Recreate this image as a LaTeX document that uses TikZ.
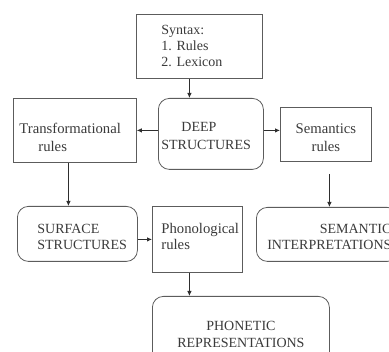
\documentclass[tikz,border=0pt]{standalone}
\usepackage{fontspec}
\setmainfont{Liberation Serif}
\usetikzlibrary{arrows.meta}
\hyphenpenalty=10000
\exhyphenpenalty=10000
\definecolor{linec}{HTML}{5C5C5C}
\definecolor{arrc}{HTML}{2E2E2E}
\definecolor{txt}{HTML}{3A3A3A}
% a strut that raises the top of a text block, to move its lines down
\newcommand\toppad[1]{\rule{0pt}{#1}}
% a strut that lowers the bottom of a text block, to move its lines up
\newcommand\botpad[1]{\rule[-#1]{0pt}{0pt}}
% left-aligned block of lines, each line free to carry its own indent
\newcommand\leftlines[1]{\begin{tabular}[t]{@{}l@{}}#1\end{tabular}}
\tikzset{
  box/.style={draw=linec, line width=0.8pt, anchor=north west, inner ysep=0pt,
              text=txt, font={\fontsize{14}{17}\selectfont\frenchspacing}},
  rbox/.style={box, rounded corners=11pt},
  arr/.style={draw=arrc, line width=0.8pt, -{Latex[length=5pt,width=4.5pt]}}
}
\begin{document}
\begin{tikzpicture}[x=1pt,y=-1pt]
\useasboundingbox (0,0) rectangle (389,352);
\clip (0,0) rectangle (389,352);

% top: syntax component
\node[box, minimum width=126, minimum height=64, inner xsep=25, text width=76,
      align=left, font={\fontsize{14}{16}\selectfont\frenchspacing}] (syn) at (136,14)
  {Syntax:\\1. Rules\\2. Lexicon};

% middle row
\node[rbox, minimum width=105, minimum height=71, inner xsep=3, text width=99,
      align=left, font={\fontsize{14}{18}\selectfont}] (deep) at (158,98)
  {\leftlines{\toppad{19pt}\hspace*{20pt}DEEP\\STRUCTURES}};
% second line set in its own column, 19pt in from the first
\node[box, minimum width=123, minimum height=64, inner xsep=6, text width=111,
      align=left, font={\fontsize{14.7}{18}\selectfont}] (trans) at (13,98)
  {\begin{tabular}[t]{@{}p{19pt}@{}l@{}}
     \multicolumn{2}{@{}l@{}}{\toppad{29.4pt}Transformational}\\
     & rules
   \end{tabular}};
\node[box, minimum width=91, minimum height=54, inner xsep=4, text width=83,
      align=center, font={\fontsize{14.7}{18}\selectfont}] (sem) at (280,107)
  {\toppad{15.5pt}Semantics\\rules};

% lower row
\node[rbox, minimum width=120, minimum height=55, inner xsep=9, text width=102,
      align=left, font={\fontsize{14}{16}\selectfont}] (surf) at (17,206)
  {\leftlines{\toppad{19.3pt}\hspace*{11pt}SURFACE\\\hspace*{11pt}STRUCTURES}};
\node[box, minimum width=90, minimum height=66, inner xsep=3, text width=84,
      align=left, font={\fontsize{14.7}{16}\selectfont}] (phon) at (152,206)
  {\leftlines{\hspace*{6pt}Phonological\\\hspace*{6pt}rules\botpad{7.2pt}}};
\node[rbox, minimum width=142, minimum height=54, inner xsep=7, text width=128,
      align=right, font={\fontsize{14}{16}\selectfont}] (sint) at (256,207)
  {\toppad{13.5pt}SEMANTIC\\INTERPRETATIONS};

% bottom
\node[rbox, minimum width=177, minimum height=69, inner xsep=5, text width=167,
      align=center, font={\fontsize{14}{17}\selectfont}] (phonet) at (152,296)
  {\toppad{15.5pt}PHONETIC\\REPRESENTATIONS};

% connectors
\draw[arr] ([xshift=-10pt]syn.south) -- ([xshift=-10pt]syn.south |- deep.north);
\draw[arr] (deep.west |- trans.east) -- (trans.east);
\draw[arr] (deep.east |- trans.east) -- (sem.west |- trans.east);
\draw[arr] ([xshift=-6.5pt]trans.south) -- ([xshift=-6.5pt]trans.south |- surf.north);
\draw[arr] ([xshift=3.5pt,yshift=-12pt]sem.south) -- ([xshift=3.5pt]sem.south |- sint.north);
\draw[arr] (surf.east |- phon.west) -- (phon.west);
\draw[arr] ([xshift=-8pt]phon.south) -- ([xshift=-8pt]phon.south |- phonet.north);
\end{tikzpicture}
\end{document}
